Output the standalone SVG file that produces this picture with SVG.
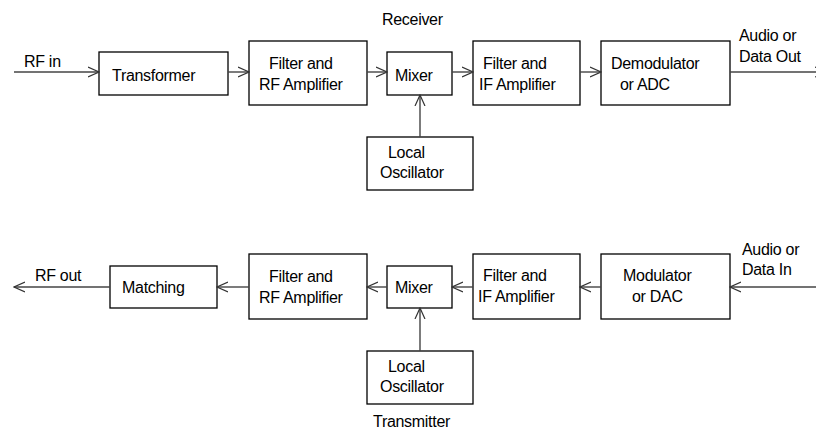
<svg xmlns="http://www.w3.org/2000/svg" width="816" height="432" viewBox="0 0 816 432">
  <defs>
    <marker id="arrow" viewBox="0 0 12 12" refX="11" refY="6" markerWidth="12" markerHeight="12" markerUnits="userSpaceOnUse" orient="auto">
      <path d="M0,1 L11,6 L0,11" fill="none" stroke="#333" stroke-width="1.2"/>
    </marker>
  </defs>
  <style>
    .box { fill: #fff; stroke: #000; stroke-width: 1.3; }
    .wire { fill: none; stroke: #444; stroke-width: 1.4; marker-end: url(#arrow); }
    text { font-family: "Liberation Sans", Arial, sans-serif; font-size: 16px; fill: #000; letter-spacing: -0.3px; }
  </style>
  <rect width="816" height="432" fill="#fff"/>

  <!-- receiver chain -->
  <text x="382" y="25">Receiver</text>
  <g id="rx-transformer">
    <rect class="box" x="99" y="52" width="129" height="43"/>
    <text x="112" y="81">Transformer</text>
  </g>
  <g id="rx-rf-amp">
    <rect class="box" x="249" y="41" width="118" height="64"/>
    <text x="269" y="69">Filter and</text>
    <text x="259" y="90">RF Amplifier</text>
  </g>
  <g id="rx-mixer">
    <rect class="box" x="387" y="52" width="65" height="43"/>
    <text x="395" y="81">Mixer</text>
  </g>
  <g id="rx-lo">
    <rect class="box" x="367" y="137" width="106" height="53"/>
    <text x="388" y="158">Local</text>
    <text x="380" y="178">Oscillator</text>
  </g>
  <g id="rx-if-amp">
    <rect class="box" x="473" y="41" width="107" height="64"/>
    <text x="483" y="69">Filter and</text>
    <text x="479" y="90">IF Amplifier</text>
  </g>
  <g id="rx-demod">
    <rect class="box" x="601" y="41" width="129" height="64"/>
    <text x="611" y="69">Demodulator</text>
    <text x="620" y="90">or ADC</text>
  </g>
  <g id="rx-labels">
    <text x="24" y="67">RF in</text>
    <text x="739" y="41">Audio or</text>
    <text x="739" y="62">Data Out</text>
  </g>

  <!-- transmitter chain -->
  <text x="373" y="427">Transmitter</text>
  <g id="tx-matching">
    <rect class="box" x="110" y="266" width="107" height="42"/>
    <text x="122" y="293">Matching</text>
  </g>
  <g id="tx-rf-amp">
    <rect class="box" x="249" y="254" width="118" height="65"/>
    <text x="269" y="282">Filter and</text>
    <text x="259" y="303">RF Amplifier</text>
  </g>
  <g id="tx-mixer">
    <rect class="box" x="387" y="266" width="65" height="42"/>
    <text x="395" y="293">Mixer</text>
  </g>
  <g id="tx-lo">
    <rect class="box" x="367" y="351" width="106" height="53"/>
    <text x="388" y="372">Local</text>
    <text x="380" y="392">Oscillator</text>
  </g>
  <g id="tx-if-amp">
    <rect class="box" x="473" y="254" width="107" height="65"/>
    <text x="483" y="281">Filter and</text>
    <text x="478" y="302">IF Amplifier</text>
  </g>
  <g id="tx-mod">
    <rect class="box" x="601" y="254" width="129" height="65"/>
    <text x="623" y="281">Modulator</text>
    <text x="632" y="302">or DAC</text>
  </g>
  <g id="tx-labels">
    <text x="35" y="281">RF out</text>
    <text x="742" y="255">Audio or</text>
    <text x="742" y="275">Data In</text>
  </g>

  <!-- signal paths -->
  <g id="connectors">
    <line class="wire" x1="14" y1="72" x2="99" y2="72"/>
    <line class="wire" x1="228" y1="72" x2="249" y2="72"/>
    <line class="wire" x1="367" y1="72" x2="387" y2="72"/>
    <line class="wire" x1="452" y1="72" x2="473" y2="72"/>
    <line class="wire" x1="580" y1="72" x2="601" y2="72"/>
    <line class="wire" x1="730" y1="72" x2="826" y2="72"/>
    <line class="wire" x1="420" y1="137" x2="420" y2="95"/>

    <line class="wire" x1="816" y1="287" x2="730" y2="287"/>
    <line class="wire" x1="601" y1="287" x2="580" y2="287"/>
    <line class="wire" x1="473" y1="287" x2="452" y2="287"/>
    <line class="wire" x1="387" y1="287" x2="367" y2="287"/>
    <line class="wire" x1="249" y1="287" x2="217" y2="287"/>
    <line class="wire" x1="110" y1="287" x2="14" y2="287"/>
    <line class="wire" x1="420" y1="351" x2="420" y2="308"/>
  </g>
</svg>
